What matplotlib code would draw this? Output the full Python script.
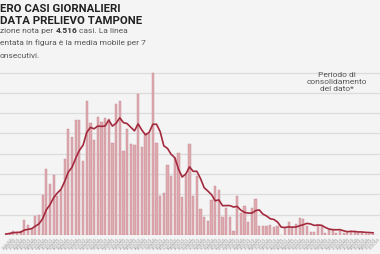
import matplotlib
matplotlib.use('Agg')
import matplotlib.pyplot as plt
import numpy as np
import pandas as pd

# casi giornalieri per data prelievo tampone
casi = [1, 2, 4, 3, 4, 15, 10, 6, 19, 20,
        39, 65, 50, 59, 38, 44, 75, 104, 97, 113,
        113, 73, 132, 110, 94, 116, 111, 115, 114, 91,
        129, 132, 83, 104, 90, 89, 139, 87, 99, 99,
        160, 91, 38, 41, 69, 58, 76, 81, 37, 59,
        90, 38, 58, 26, 18, 14, 34, 48, 44, 18,
        27, 18, 4, 38, 22, 29, 13, 27, 35, 9,
        9, 9, 10, 8, 9, 0, 7, 13, 7, 11,
        17, 16, 9, 3, 3, 10, 9, 2, 5, 5,
        2, 4, 2, 3, 4, 4, 2, 2, 1, 1, 1]
date = pd.date_range('2020-02-21', periods=len(casi)).strftime('%d/%m/%Y')
griglia = [0, 20, 40, 60, 80, 100, 120, 140, 160]

# media mobile su 7 giorni, come indicato nel sottotitolo
media = pd.Series(casi).rolling(7, min_periods=1).mean()

bg = '#f4f4f4'
fig = plt.figure(figsize=(3.8, 2.55), dpi=100, facecolor=bg)
ax = fig.add_axes([0, 0.0745, 1, 0.657])
ax.set_facecolor(bg)

x = np.arange(len(casi))
ax.bar(x, casi, width=0.6, color='#dea9b0', edgecolor='#c88891', linewidth=0.3, zorder=2)
ax.plot(x, media, color='#a3293d', linewidth=1.2, zorder=3)

ax.set_xlim(-1.63, 101.9)
ax.set_ylim(0, 165)
ax.set_yticks(griglia)
ax.yaxis.grid(True, color='#dcdcdc', linewidth=0.9, zorder=0)
ax.tick_params(axis='y', left=False, labelleft=False)
ax.tick_params(axis='x', length=0, pad=4.5)
ax.set_xticks(x)
ax.set_xticklabels(date, rotation=48, ha='center', rotation_mode='anchor',
                   fontsize=1.8, color='#8a8a8a')
for s in ax.spines.values():
    s.set_visible(False)

ax.text(90.2, 162, 'Periodo di\nconsolidamento\ndel dato*', ha='center', va='top',
        fontsize=6, color='#555555', family='Roboto', linespacing=1.2)

# titolo e sottotitolo (tagliati a sinistra come nell'originale)
fig.text(0, 1 - 11.5 / 255, 'ERO CASI GIORNALIERI', fontsize=8.2, fontweight='bold',
         family='Roboto', color='#222222', va='baseline')
fig.text(0, 1 - 23.5 / 255, 'DATA PRELIEVO TAMPONE', fontsize=8.2, fontweight='bold',
         family='Roboto', color='#222222', va='baseline')
fig.text(0, 1 - 33 / 255, 'zione nota per', fontsize=6, family='Roboto',
         color='#555555', va='baseline')
fig.text(56 / 380, 1 - 33 / 255, '4.516', fontsize=6, family='Roboto', fontweight='bold',
         color='#333333', va='baseline')
fig.text(79 / 380, 1 - 33 / 255, 'casi. La linea', fontsize=6, family='Roboto',
         color='#555555', va='baseline')
fig.text(0, 1 - 45.5 / 255, 'entata in figura è la media mobile per 7', fontsize=6,
         family='Roboto', color='#555555', va='baseline')
fig.text(0, 1 - 58.5 / 255, 'onsecutivi.', fontsize=6, family='Roboto',
         color='#555555', va='baseline')

fig.savefig('out.png', dpi=100, facecolor=bg)
